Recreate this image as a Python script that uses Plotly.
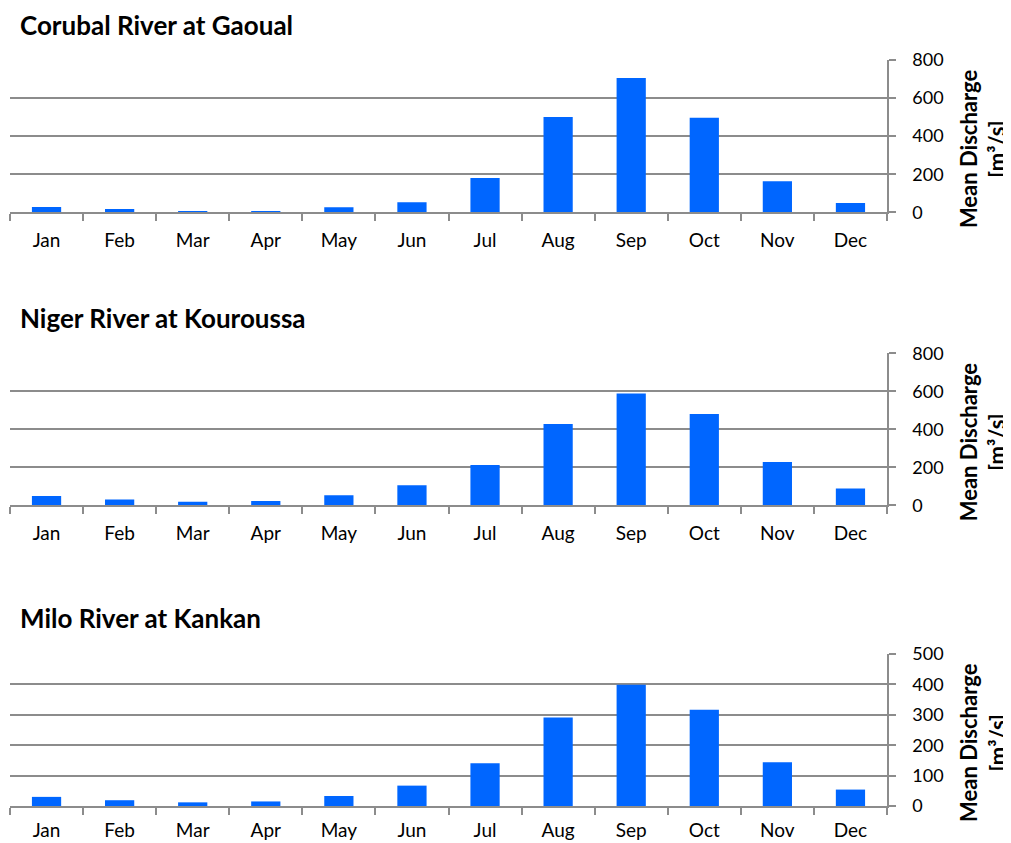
import plotly.graph_objects as go
from plotly.subplots import make_subplots

months = ["Jan", "Feb", "Mar", "Apr", "May", "Jun", "Jul", "Aug", "Sep", "Oct", "Nov", "Dec"]
titles = ["Corubal River at Gaoual", "Niger River at Kouroussa", "Milo River at Kankan"]
corubal = [28, 17, 7, 7, 26, 53, 180, 501, 705, 496, 163, 49]
niger = [49, 30, 19, 23, 53, 105, 212, 428, 589, 480, 228, 89]
milo = [30, 19, 12, 15, 33, 67, 141, 291, 399, 317, 144, 54]
series = [corubal, niger, milo]
y_max = [800, 800, 500]
y_dtick = [200, 200, 100]

OFF = 8  # page body margin
W, H = 1011 - OFF, 843 - OFF
L, R = 9.5 - OFF, 887 - OFF
PW = R - L
panels_px = [(60, 212.3), (353.3, 505.3), (654, 806)]
title_px = [25, 318, 618]

fig = make_subplots(rows=3, cols=1)
font = "Lato, Open Sans, sans-serif"
grid = "#8c8c8c"

for i, vals in enumerate(series):
    r = i + 1
    fig.add_trace(go.Bar(x=months, y=vals, marker=dict(color="#0066ff", line=dict(width=0)),
                         showlegend=False), row=r, col=1)
    top, bot = panels_px[i]
    dom = [1 - (bot - OFF) / H, 1 - (top - OFF) / H]
    fig.update_yaxes(domain=dom, range=[0, y_max[i]], dtick=y_dtick[i], side="right",
                     showgrid=True, gridcolor=grid, gridwidth=1.5,
                     showline=True, linecolor=grid, linewidth=1.5,
                     ticks="outside", ticklen=7, tickcolor=grid, tickwidth=1.5,
                     ticklabelstandoff=13, automargin=False,
                     tickfont=dict(family=font, size=18, color="#000"),
                     zeroline=False, fixedrange=True, row=r, col=1)
    fig.update_xaxes(type="category", tickson="boundaries", ticks="outside", ticklen=7,
                     tickcolor=grid, tickwidth=1.5, showline=True, linecolor=grid, linewidth=1.5,
                     showgrid=False, ticklabelstandoff=(10 if r < 3 else 6), automargin=False,
                     tickfont=dict(family=font, size=19, color="#000"), row=r, col=1)
    fig.add_annotation(xref="paper", yref="paper", x=(18 - OFF - L) / PW,
                       y=1 - (title_px[i] - OFF) / H,
                       xanchor="left", yanchor="middle", showarrow=False,
                       text="<b>" + titles[i] + "</b>",
                       font=dict(family=font, size=26, color="#000"))
    fig.add_annotation(xref="paper", yref="paper", x=(983 - OFF - L) / PW,
                       y=1 - ((top + bot) / 2 + 12 - OFF) / H,
                       xanchor="center", yanchor="middle", showarrow=False, textangle=-90,
                       text="<b>Mean Discharge<br>[m³/s]</b>",
                       font=dict(family=font, size=22, color="#000"))

fig.update_layout(width=W, height=H, margin=dict(l=L, r=W - R, t=0, b=0, autoexpand=False),
                  plot_bgcolor="white", paper_bgcolor="white", bargap=0.6)
fig.write_html("out.html")
